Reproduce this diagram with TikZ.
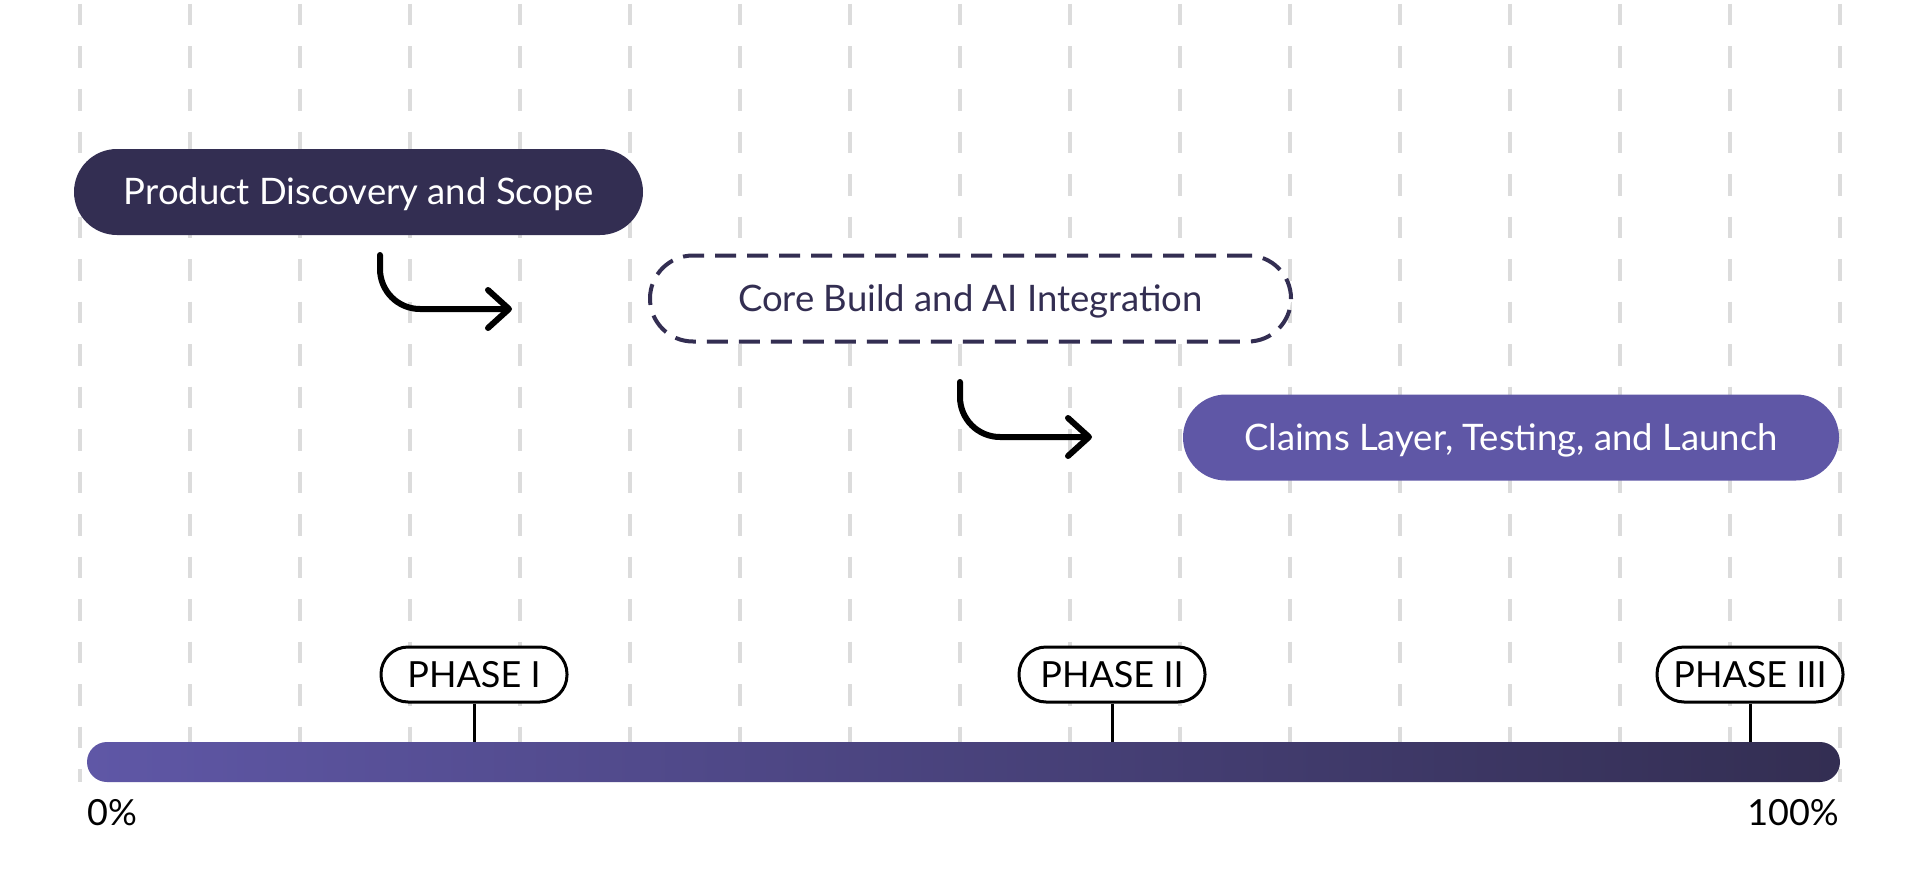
\documentclass[tikz,border=0pt]{standalone}
\usepackage{fontspec}
\setmainfont{Lato}
\usetikzlibrary{arrows.meta}
\definecolor{gridgray}{HTML}{DCDCDC}
\definecolor{navy}{HTML}{332E52}
\definecolor{violet}{HTML}{5F57A6}
\begin{document}
\begin{tikzpicture}[x=1pt,y=-1pt,
  gridline/.style={gridgray, line width=3.5pt, dash pattern=on 21.5pt off 21pt},
  pill/.style={rounded corners=43pt, minimum height=86pt, inner sep=0pt,
    text height=25.8pt, text depth=0pt, font=\fontsize{36.5}{40}\selectfont},
  solidpill/.style={pill, fill=#1, text=white},
  dashpill/.style={pill, draw=navy, fill=white, text=navy, line width=4pt,
    dash pattern=on 21pt off 11pt},
  phase/.style={draw=black, fill=white, line width=3pt, rounded corners=27pt,
    minimum width=186pt, minimum height=55pt, inner sep=0pt,
    text height=25.8pt, text depth=0pt, font=\fontsize{36}{40}\selectfont},
  stem/.style={black, line width=3pt},
  flow/.style={black, line width=6pt, line cap=round, line join=round,
    rounded corners=40pt, -{Straight Barb[length=21pt,width=38pt,round]}},
  pct/.style={font=\fontsize{36}{40}\selectfont, inner sep=0pt},
  bar/.style={left color=violet, right color=navy, rounded corners=20pt,
    minimum width=1753pt, minimum height=40pt, inner sep=0pt}
]
\useasboundingbox (0,0) rectangle (1920,875);
\fill[white] (0,0) rectangle (1920,875);
% grid
\foreach \k in {0,...,16}{
  \draw[gridline] (80+110*\k,4) -- (80+110*\k,782);
}
% progress bar
\node[bar] (bar) at (963.5,762) {};
% task boxes
\node[solidpill=navy, minimum width=569pt] (b1) at (358.5,192) {Product Discovery and Scope};
\node[dashpill, minimum width=641pt] (b2) at (970.5,298.5) {Core Build and AI Integration};
\node[solidpill=violet, minimum width=656pt] (b3) at (1511,437.5) {Claims Layer, Testing, and Launch};
% flow arrows
\coordinate (a1s) at (380,255);
\coordinate (a1e) at (512,309);
\coordinate (a2s) at (960,382);
\coordinate (a2e) at (1092,437);
\draw[flow] (a1s) |- (a1e);
\draw[flow] (a2s) |- (a2e);
% phase markers
\node[phase] (p1) at (474,674.5) {PHASE I};
\node[phase] (p2) at (1112,674.5) {PHASE II};
\node[phase] (p3) at (1750,674.5) {PHASE III};
\draw[stem] (p1.south) -- (p1.south |- bar.north);
\draw[stem] (p2.south) -- (p2.south |- bar.north);
\draw[stem] (p3.south) -- (p3.south |- bar.north);
% percentages
\node[pct, anchor=base west] (zero) at (87,825) {0\%};
\node[pct, anchor=base east] (hundred) at (1839,825) {100\%};
\end{tikzpicture}
\end{document}
